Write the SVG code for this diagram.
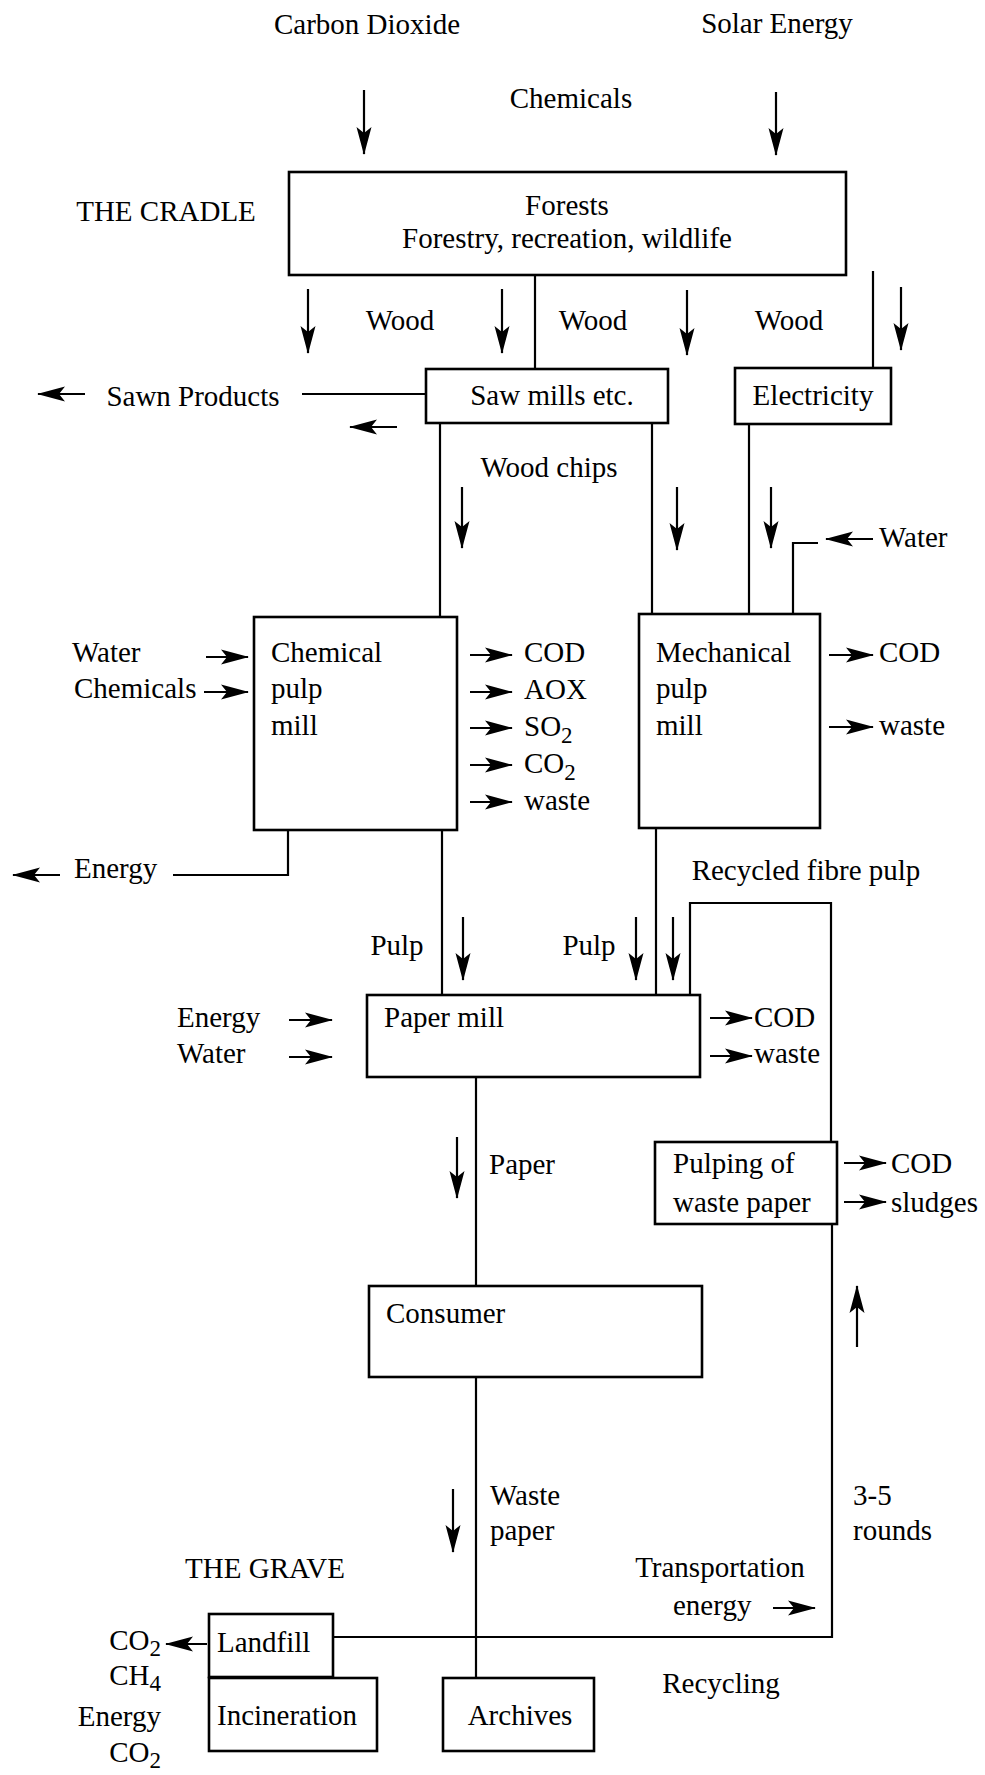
<svg xmlns="http://www.w3.org/2000/svg" width="985" height="1775" viewBox="0 0 985 1775" font-family="'Liberation Serif', 'Times New Roman', serif">
<style>
text{font-family:"Liberation Serif","Times New Roman",serif;font-size:29px;fill:#000}
.m{text-anchor:middle}
.e{text-anchor:end}
.box{fill:none;stroke:#000;stroke-width:2.6}
.ln{fill:none;stroke:#000;stroke-width:2.2}
.ar{fill:none;stroke:#000;stroke-width:2.2;marker-end:url(#ah)}
.sub{font-size:23px}
</style>
<defs>
<marker id="ah" markerUnits="userSpaceOnUse" markerWidth="30" markerHeight="18" refX="27" refY="8" orient="auto">
<path d="M0,0.5 L28,8 L0,15.5 L6,8 z" fill="#000"/>
</marker>
</defs>
<rect width="985" height="1775" fill="#fff"/>

<g id="connectors">
<line class="ar" x1="364" y1="90" x2="364" y2="154"/>
<line class="ar" x1="776" y1="92" x2="776" y2="155"/>
<line class="ln" x1="535" y1="275" x2="535" y2="369"/>
<line class="ln" x1="873" y1="271" x2="873" y2="368"/>
<line class="ar" x1="308" y1="289" x2="308" y2="353"/>
<line class="ar" x1="502" y1="289" x2="502" y2="353"/>
<line class="ar" x1="687" y1="290" x2="687" y2="355"/>
<line class="ar" x1="901" y1="287" x2="901" y2="350"/>
<line class="ln" x1="302" y1="394" x2="426" y2="394"/>
<line class="ar" x1="85" y1="394" x2="38" y2="394"/>
<line class="ar" x1="397" y1="427" x2="350" y2="427"/>
<line class="ln" x1="440" y1="423" x2="440" y2="617"/>
<line class="ln" x1="652" y1="423" x2="652" y2="614"/>
<line class="ln" x1="749" y1="424" x2="749" y2="614"/>
<line class="ar" x1="873" y1="539" x2="826" y2="539"/>
<polyline class="ln" points="818,543 793,543 793,614"/>
<line class="ar" x1="462" y1="487" x2="462" y2="548"/>
<line class="ar" x1="677" y1="487" x2="677" y2="550"/>
<line class="ar" x1="771" y1="487" x2="771" y2="548"/>
<line class="ar" x1="206" y1="657" x2="248" y2="657"/>
<line class="ar" x1="204" y1="692" x2="248" y2="692"/>
<line class="ar" x1="470" y1="655" x2="512" y2="655"/>
<line class="ar" x1="470" y1="692" x2="512" y2="692"/>
<line class="ar" x1="470" y1="728" x2="512" y2="728"/>
<line class="ar" x1="470" y1="765" x2="512" y2="765"/>
<line class="ar" x1="470" y1="802" x2="512" y2="802"/>
<line class="ar" x1="829" y1="655" x2="873" y2="655"/>
<line class="ar" x1="829" y1="727" x2="873" y2="727"/>
<polyline class="ln" points="288,830 288,875 173,875"/>
<line class="ar" x1="60" y1="875" x2="13" y2="875"/>
<line class="ln" x1="442" y1="830" x2="442" y2="995"/>
<line class="ln" x1="656" y1="828" x2="656" y2="995"/>
<polyline class="ln" points="690,995 690,903 831,903 831,1142"/>
<line class="ar" x1="463" y1="917" x2="463" y2="980"/>
<line class="ar" x1="636" y1="917" x2="636" y2="980"/>
<line class="ar" x1="673" y1="917" x2="673" y2="980"/>
<line class="ar" x1="289" y1="1020" x2="332" y2="1020"/>
<line class="ar" x1="289" y1="1057" x2="332" y2="1057"/>
<line class="ar" x1="710" y1="1018" x2="752" y2="1018"/>
<line class="ar" x1="710" y1="1056" x2="752" y2="1056"/>
<line class="ln" x1="476" y1="1077" x2="476" y2="1286"/>
<line class="ar" x1="457" y1="1137" x2="457" y2="1198"/>
<line class="ar" x1="844" y1="1163" x2="886" y2="1163"/>
<line class="ar" x1="844" y1="1202" x2="886" y2="1202"/>
<polyline class="ln" points="333,1637 832,1637 832,1223"/>
<line class="ar" x1="857" y1="1347" x2="857" y2="1286"/>
<line class="ln" x1="476" y1="1377" x2="476" y2="1678"/>
<line class="ar" x1="453" y1="1489" x2="453" y2="1552"/>
<line class="ar" x1="773" y1="1608" x2="815" y2="1608"/>
<line class="ar" x1="207" y1="1644" x2="166" y2="1644"/>
</g>

<g id="labels">
<text class="m" x="367" y="34">Carbon Dioxide</text>
<text class="m" x="777" y="33">Solar Energy</text>
<text class="m" x="571" y="108">Chemicals</text>
<text class="m" x="166" y="221">THE CRADLE</text>
<text class="m" x="400" y="330">Wood</text>
<text class="m" x="593" y="330">Wood</text>
<text class="m" x="789" y="330">Wood</text>
<text class="m" x="193" y="406">Sawn Products</text>
<text class="m" x="549" y="477">Wood chips</text>
<text x="879" y="547">Water</text>
<text x="72" y="662">Water</text>
<text x="74" y="698">Chemicals</text>
<text x="524" y="662">COD</text>
<text x="524" y="699">AOX</text>
<text x="524" y="736">SO<tspan class="sub" dy="7">2</tspan></text>
<text x="524" y="773">CO<tspan class="sub" dy="7">2</tspan></text>
<text x="524" y="810">waste</text>
<text x="879" y="662">COD</text>
<text x="879" y="735">waste</text>
<text x="74" y="878">Energy</text>
<text class="m" x="806" y="880">Recycled fibre pulp</text>
<text class="m" x="397" y="955">Pulp</text>
<text class="m" x="589" y="955">Pulp</text>
<text x="177" y="1027">Energy</text>
<text x="177" y="1063">Water</text>
<text x="754" y="1027">COD</text>
<text x="754" y="1063">waste</text>
<text x="489" y="1174">Paper</text>
<text x="891" y="1173">COD</text>
<text x="891" y="1212">sludges</text>
<text x="490" y="1505">Waste</text>
<text x="490" y="1540">paper</text>
<text x="853" y="1505">3-5</text>
<text x="853" y="1540">rounds</text>
<text class="m" x="265" y="1578">THE GRAVE</text>
<text class="m" x="720" y="1577">Transportation</text>
<text x="673" y="1615">energy</text>
<text class="m" x="721" y="1693">Recycling</text>
<text class="e" x="161" y="1650">CO<tspan class="sub" dy="6">2</tspan></text>
<text class="e" x="161" y="1685">CH<tspan class="sub" dy="6">4</tspan></text>
<text class="e" x="161" y="1726">Energy</text>
<text class="e" x="161" y="1762">CO<tspan class="sub" dy="6">2</tspan></text>
</g>

<g id="forests">
<rect class="box" x="289" y="172" width="557" height="103"/>
<text class="m" x="567" y="215">Forests</text>
<text class="m" x="567" y="248">Forestry, recreation, wildlife</text>
</g>
<g id="sawmills">
<rect class="box" x="426" y="369" width="242" height="54"/>
<text class="m" x="552" y="405">Saw mills etc.</text>
</g>
<g id="electricity">
<rect class="box" x="735" y="368" width="156" height="56"/>
<text class="m" x="813" y="405">Electricity</text>
</g>
<g id="chemical-pulp-mill">
<rect class="box" x="254" y="617" width="203" height="213"/>
<text x="271" y="662">Chemical</text>
<text x="271" y="698">pulp</text>
<text x="271" y="735">mill</text>
</g>
<g id="mechanical-pulp-mill">
<rect class="box" x="639" y="614" width="181" height="214"/>
<text x="656" y="662">Mechanical</text>
<text x="656" y="698">pulp</text>
<text x="656" y="735">mill</text>
</g>
<g id="paper-mill">
<rect class="box" x="367" y="995" width="333" height="82"/>
<text x="384" y="1027">Paper mill</text>
</g>
<g id="pulping">
<rect class="box" x="655" y="1142" width="182" height="82"/>
<text x="673" y="1173">Pulping of</text>
<text x="673" y="1212">waste paper</text>
</g>
<g id="consumer">
<rect class="box" x="369" y="1286" width="333" height="91"/>
<text x="386" y="1323">Consumer</text>
</g>
<g id="landfill">
<rect class="box" x="209" y="1614" width="124" height="63"/>
<text x="217" y="1652">Landfill</text>
</g>
<g id="incineration">
<rect class="box" x="209" y="1678" width="168" height="73"/>
<text x="217" y="1725">Incineration</text>
</g>
<g id="archives">
<rect class="box" x="443" y="1678" width="151" height="73"/>
<text class="m" x="520" y="1725">Archives</text>
</g>
</svg>
